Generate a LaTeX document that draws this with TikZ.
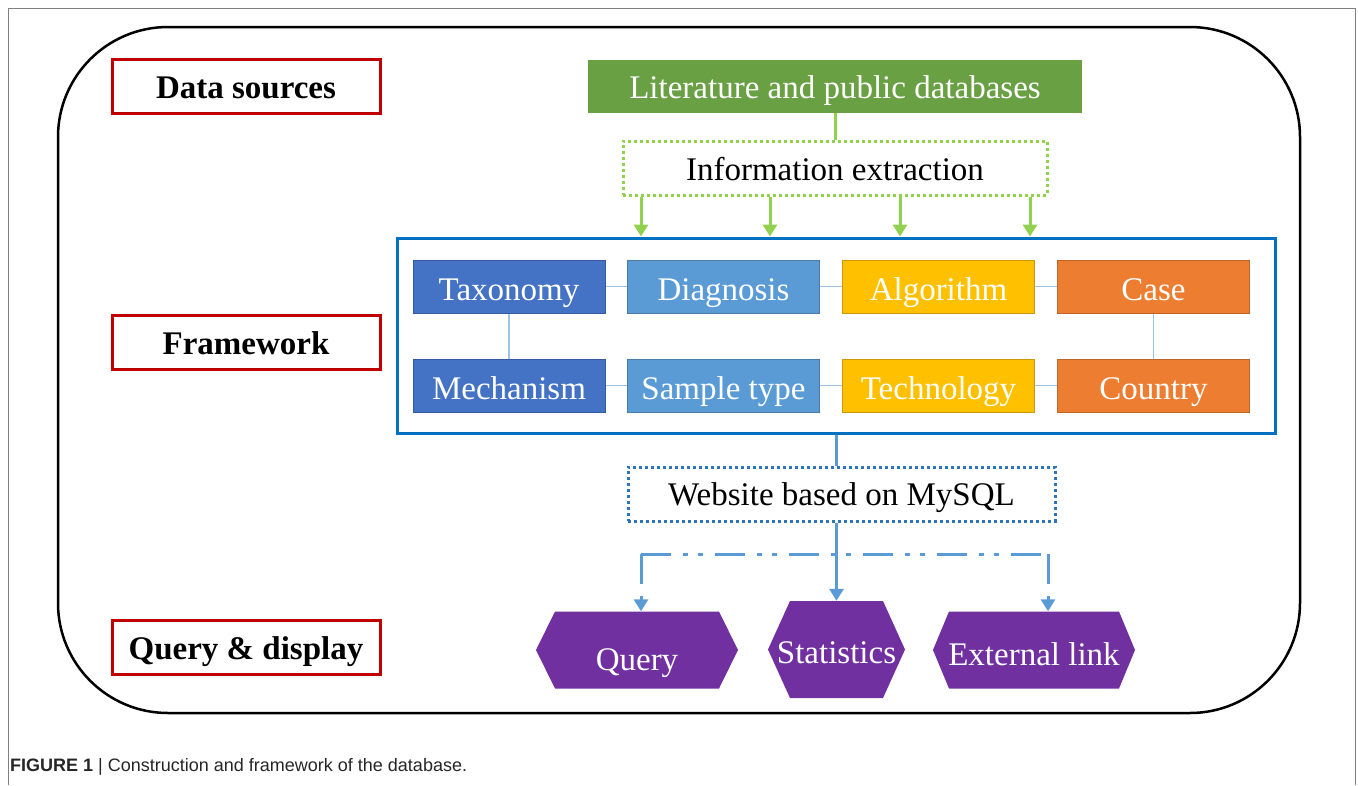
\documentclass[tikz,border=0pt]{standalone}
\usepackage{fontspec}
\setmainfont{Liberation Serif}
\newfontfamily\capfont{Liberation Sans}
\usetikzlibrary{arrows.meta,calc}
\definecolor{cgreen}{RGB}{106,160,68}
\definecolor{lgreen}{RGB}{146,208,80}
\definecolor{fwblue}{RGB}{0,112,192}
\definecolor{cdark}{RGB}{68,114,196}
\definecolor{cmid}{RGB}{91,155,213}
\definecolor{cgold}{RGB}{255,192,0}
\definecolor{corange}{RGB}{237,125,49}
\definecolor{clight}{RGB}{157,195,230}
\definecolor{cdot}{RGB}{46,117,182}
\definecolor{cred}{RGB}{192,0,0}
\definecolor{cpurple}{RGB}{112,48,160}
\tikzset{
  txt/.style={font=\fontsize{33}{40}\selectfont, text height=24pt, text depth=0pt},
  labelbox/.style={draw=cred, line width=3pt, minimum width=268pt, minimum height=54pt, inner sep=0pt, txt, font=\fontsize{33}{40}\selectfont\bfseries},
  catbox/.style={draw=#1!80!black, fill=#1, line width=1pt, minimum width=192pt, minimum height=53pt, inner sep=0pt, text=white, txt, text height=27pt},
  link/.style={draw=clight, line width=1.5pt},
  garrow/.style={draw=lgreen, line width=3pt, -{Triangle[width=14pt,length=12pt]}},
  barrow/.style={draw=cmid, line width=3pt, -{Triangle[width=14pt,length=12pt]}},
  dd/.style={draw=cmid, line width=3pt, dash pattern=on 30pt off 12pt on 5pt off 10pt on 5pt off 12pt},
  hexnode/.style={minimum width=#1, inner sep=0pt, text=white, txt},
  hexfill/.style={path picture={\fill[cpurple] (path picture bounding box.west) -- ($(path picture bounding box.north west)+(#1,0)$) -- ($(path picture bounding box.north east)+(-#1,0)$) -- (path picture bounding box.east) -- ($(path picture bounding box.south east)+(-#1,0)$) -- ($(path picture bounding box.south west)+(#1,0)$) -- cycle;}}
}
\begin{document}
\begin{tikzpicture}[x=1pt,y=-1pt]
\useasboundingbox (0,0) rectangle (1358,785);
% outer frame
\draw[gray, line width=1pt] (8,785) -- (8,8) -- (1355,8) -- (1355,785);
\draw[black, line width=2.5pt, rounded corners=110pt] (58,27) rectangle (1300,713);
% left labels
\node[labelbox] (ds) at (246,86) {Data sources};
\node[labelbox] (fwl) at (246,342.5) {Framework};
\node[labelbox] (qd) at (246,647.5) {Query \& display};
% data sources
\node[fill=cgreen, minimum width=494pt, minimum height=53pt, inner sep=0pt, text=white, txt] (lit) at (835,86.5) {Literature and public databases};
\node[draw=lgreen, line width=3pt, dash pattern=on 3pt off 3pt, minimum width=424pt, minimum height=54pt, inner sep=0pt, txt] (info) at (835,168) {Information extraction};
\draw[lgreen, line width=3pt] (lit.south) -- (info.north);
% framework
\node[draw=fwblue, line width=3pt, minimum width=878pt, minimum height=195pt, inner sep=0pt] (fw) at (836,335.5) {};
\coordinate (a1) at (641,0);
\coordinate (a2) at (770,0);
\coordinate (a3) at (900,0);
\coordinate (a4) at (1030,0);
\foreach \a in {a1,a2,a3,a4} \draw[garrow] (info.south -| \a) -- (fw.north -| \a);
\node[catbox=cdark] (tax) at (509,286.5) {Taxonomy};
\node[catbox=cmid] (dia) at (723.5,286.5) {Diagnosis};
\node[catbox=cgold] (alg) at (938.5,286.5) {Algorithm};
\node[catbox=corange] (cas) at (1153.5,286.5) {Case};
\node[catbox=cdark] (mec) at (509,385.5) {Mechanism};
\node[catbox=cmid] (sam) at (723.5,385.5) {Sample type};
\node[catbox=cgold] (tec) at (938.5,385.5) {Technology};
\node[catbox=corange] (cou) at (1153.5,385.5) {Country};
\draw[link] (tax) -- (dia);
\draw[link] (dia) -- (alg);
\draw[link] (alg) -- (cas);
\draw[link] (mec) -- (sam);
\draw[link] (sam) -- (tec);
\draw[link] (tec) -- (cou);
\draw[link] (tax) -- (mec);
\draw[link] (cas) -- (cou);
% website
\node[draw=cdot, line width=3pt, dash pattern=on 3pt off 3pt, minimum width=427pt, minimum height=54pt, inner sep=0pt, txt, text height=22pt] (web) at (841.5,494) {Website based on MySQL};
\draw[cmid, line width=3pt] (fw.south) -- (fw.south |- web.north);
% query & display
\node[hexnode=202pt, minimum height=77pt, hexfill=19pt, text height=40pt] (q) at (637,650) {Query};
\node[hexnode=137pt, minimum height=97pt, hexfill=22pt, text height=27pt] (st) at (836.5,649.5) {Statistics};
\node[hexnode=202pt, minimum height=77pt, hexfill=16pt, text height=30pt] (ex) at (1034,650) {External link};
\coordinate (jl) at (641,554);
\coordinate (jr) at (1048,554);
\draw[dd] (jl) -- (jr);
\draw[barrow] (web.south -| st.north) -- (st.north);
\draw[barrow, dd] (jl) -- (jl |- q.north);
\draw[barrow, dd] (jr) -- (jr |- ex.north);
% caption
\node[anchor=base west, inner sep=0pt, font=\capfont\fontsize{18}{21}\selectfont, text=black!85] (cap) at (10,771) {\textbf{FIGURE 1} | Construction and framework of the database.};
\end{tikzpicture}
\end{document}
